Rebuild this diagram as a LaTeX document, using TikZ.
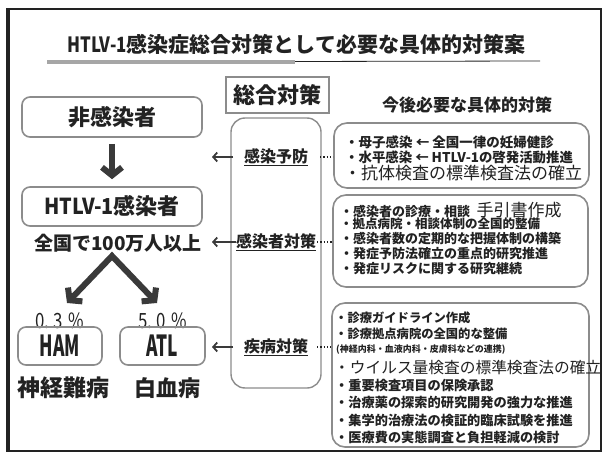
\documentclass[tikz,border=0pt]{standalone}
\usepackage{fontspec}
\usepackage{graphicx}
\setmainfont{Noto Sans CJK JP}
\newfontfamily\cmid{Noto Sans CJK JP}[FakeStretch=0.8]
\newfontfamily\cnine{Noto Sans CJK JP}[FakeStretch=0.9]
\newfontfamily\cnarrow{Noto Sans CJK JP}[FakeStretch=0.6]
\usetikzlibrary{arrows.meta}
\definecolor{ink}{HTML}{222222}
\definecolor{bord}{HTML}{8C8C8C}
\definecolor{arr}{HTML}{3A3A3A}
\newcommand{\fsz}[1]{\fontsize{#1}{#1}\selectfont}
\newcommand{\fitw}[2]{\resizebox{#1pt}{!}{#2}}
\begin{document}
\begin{tikzpicture}[x=1pt,y=-1pt,
  every node/.style={text=ink, inner sep=0pt},
  gbox/.style={draw=bord, line width=1.6pt, rounded corners=8pt},
  rbox/.style={draw=bord, line width=1.6pt, rounded corners=13pt},
  item/.style={anchor=west, font=\bfseries\fsz{13}},
  midlab/.style={font=\bfseries\fsz{16}},
  bigarr/.style={draw=arr, line width=6pt, -{Straight Barb[length=8pt,width=20pt]}},
  smallarr/.style={draw=arr, line width=1.8pt, -{Straight Barb[length=4pt,width=9pt]}},
  dotcon/.style={draw=ink, line width=1.3pt, dotted}
]
\useasboundingbox (0,0) rectangle (604,457);
\fill[white] (0,0) rectangle (604,457);
% outer frame
\draw[ink, line width=1.5pt] (7,9) rectangle (601,451);
\draw[ink, line width=3pt] (8,9) -- (8,451);

% title
\node (title) at (296.5,44) {\bfseries\fsz{21}{\cmid HTLV-1}感染症総合対策として必要な具体的対策案};
\coordinate (ulA) at (47,62);
\coordinate (ulB) at (295,62);
\coordinate (ulC) at (540,61);
\draw[ink, line width=0.8pt] (ulA) -- (ulC);
\draw[gray!70, line width=4pt] (ulA) -- (ulB);

% left column
\node[gbox, minimum width=180pt, minimum height=40pt] (nonin) at (112,117) {\bfseries\fsz{22}非感染者};
\node[gbox, minimum width=180pt, minimum height=39pt] (htlv) at (112,206.5) {\bfseries\fsz{22}{\cnine HTLV-1}感染者};
\draw[bigarr, shorten <=6pt, shorten >=7pt] (nonin.south) -- (htlv.north);
\node (pop) at (118,243) {\bfseries\fsz{19}全国で100万人以上};
\coordinate (apex) at (112,256);
\coordinate (tipL) at (67,303);
\coordinate (tipR) at (157,303);
\draw[draw=arr, line width=6pt, line join=miter, {Straight Barb[length=8pt,width=20pt]}-{Straight Barb[length=8pt,width=20pt]}] (tipL) -- (apex) -- (tipR);
\node (pHAM) at (60,321) {\cmid\fsz{21}0.\hspace{4pt}3\hspace{6pt}\%};
\node (pATL) at (163,321) {\cmid\fsz{21}5.\hspace{4pt}0\hspace{6pt}\%};
\node[gbox, minimum width=84pt, minimum height=38pt] (ham) at (60,346) {\bfseries\fsz{29}\cnarrow HAM};
\node[gbox, minimum width=85pt, minimum height=38pt] (atl) at (162.5,346) {\bfseries\fsz{29}\cnarrow ATL};
\node (neuro) at (63,388) {\bfseries\fsz{23}神経難病};
\node (leuk) at (167,388) {\bfseries\fsz{22}白血病};

% middle column
\node[draw=bord, line width=1.3pt, minimum width=103pt, minimum height=36pt] (sogo) at (277.5,95) {\bfseries\fsz{22}総合対策};
\node[draw=bord, line width=1.4pt, rounded corners=14pt, minimum width=90pt, minimum height=270pt] (mid) at (276,253) {};
\node[midlab] (lab1) at (276,157) {\underline{感染予防}};
\node[midlab] (lab2) at (276,242) {\underline{感染者対策}};
\node[midlab] (lab3) at (276,347) {\underline{疾病対策}};
\coordinate (a1s) at (233,157); \coordinate (a1e) at (212,157);
\coordinate (a3s) at (233,347); \coordinate (a3e) at (212,347);
\coordinate (a2e) at (212,242);
\draw[smallarr] (a1s) -- (a1e);
\draw[smallarr] (lab2.west) -- (a2e);
\draw[smallarr] (a3s) -- (a3e);

% right column
\node (kongo) at (467,105) {\bfseries\fsz{17}今後必要な具体的対策};
\node[rbox, minimum width=255pt, minimum height=65pt] (box1) at (461.5,155.5) {};
\node[rbox, minimum width=255pt, minimum height=92pt] (box2) at (460.5,241) {};
\node[rbox, minimum width=257pt, minimum height=144pt] (box3) at (460.5,375) {};

\coordinate (d1) at (320,157);
\coordinate (d2) at (317,242);
\coordinate (d3) at (317,347);
\draw[dotcon] (d1) -- (d1 -| box1.west);
\draw[dotcon] (d2) -- (d2 -| box2.west);
\draw[dotcon] (d3) -- (d3 -| box3.west);

\node[item, font=\bfseries\fsz{13.5}] (t11) at (345,142) {・母子感染 ← 全国一律の妊婦健診};
\node[item, font=\bfseries\fsz{13.4}] (t12) at (345,157) {・水平感染 ← HTLV-1の啓発活動推進};
\node[anchor=west, font=\fsz{17}] (t13) at (344,173) {・抗体検査の標準検査法の確立};

\node[item] (t21) at (340,210) {・感染者の診療・相談\hspace{0.5em}{\mdseries\fsz{17}手引書作成}};
\node[item, font=\bfseries\fsz{12.5}] (t22) at (340,224) {・拠点病院・相談体制の全国的整備};
\node[item] (t23) at (340,239) {・感染者数の定期的な把握体制の構築};
\node[item] (t24) at (340,254) {・発症予防法確立の重点的研究推進};
\node[item] (t25) at (340,269) {・発症リスクに関する研究継続};

\node[item, font=\bfseries\fsz{12.3}] (t31) at (335,318) {・診療ガイドライン作成};
\node[item, font=\bfseries\fsz{12.3}] (t32) at (335,334) {・診療拠点病院の全国的な整備};
\node[anchor=west, font=\bfseries\fsz{9}] (t33) at (336,350) {(神経内科・血液内科・皮膚科などの連携)};
\node[anchor=west, font=\fsz{16.5}] (t34) at (334,368) {\fitw{267}{・ウイルス量検査の標準検査法の確立}};
\node[item, font=\bfseries\fsz{13.2}] (t35) at (335,386) {・重要検査項目の保険承認};
\node[item, font=\bfseries\fsz{13.2}] (t36) at (335,403) {・治療薬の探索的研究開発の強力な推進};
\node[item, font=\bfseries\fsz{13.2}] (t37) at (335,420) {・集学的治療法の検証的臨床試験を推進};
\node[item, font=\bfseries\fsz{13.2}] (t38) at (335,437) {・医療費の実態調査と負担軽減の検討};
\end{tikzpicture}
\end{document}
